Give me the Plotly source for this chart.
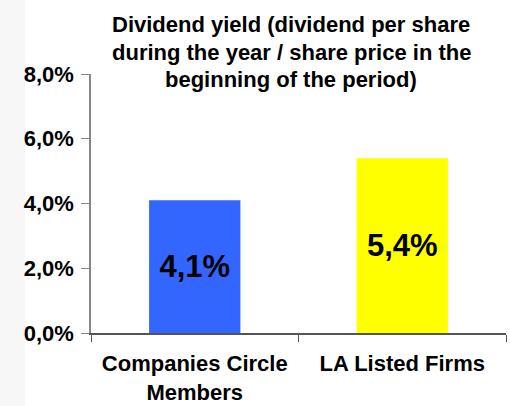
import plotly.graph_objects as go

categories = ["Companies Circle<br>Members", "LA Listed Firms"]
values = [4.1, 5.4]
bar_colors = ["#3366FF", "#FFFF00"]
tick_vals = [0, 2, 4, 6, 8]
tick_text = ["0,0%", "2,0%", "4,0%", "6,0%", "8,0%"]
title_lines = ["Dividend yield (dividend per share",
               "during the year / share price in the",
               "beginning of the period)"]

FONT = "Liberation Sans, Arial, sans-serif"

W, H = 510, 406
ml, mr, mt, mb = 91, 4, 74, 73
pw = W - ml - mr
ph = H - mt - mb

fig = go.Figure()
fig.add_trace(go.Bar(
    x=categories, y=values,
    marker=dict(color=bar_colors, line=dict(width=0)),
    texttemplate="%{y:.1f}%",
    textposition="inside", insidetextanchor="middle", textangle=0,
    textfont=dict(family=FONT, size=31, color="black", weight="bold"),
    hoverinfo="skip",
))

def px_x(px):
    return (px - ml) / pw

def px_y(py):
    return 1 - (py - mt) / ph

fig.add_shape(type="rect", xref="paper", yref="paper",
              x0=px_x(0), x1=px_x(25), y0=px_y(H), y1=px_y(0),
              fillcolor="#f7f7f7", line=dict(width=0), layer="below")

for i, line in enumerate(title_lines):
    fig.add_annotation(text=line, xref="paper", yref="paper",
                       x=px_x(291), y=px_y(10 + 27.5 * i), xanchor="center", yanchor="top",
                       showarrow=False, align="center",
                       font=dict(family=FONT, size=22, color="black", weight="bold"))

fig.update_layout(
    width=W, height=H,
    margin=dict(l=ml, r=mr, t=mt, b=mb, pad=0, autoexpand=False),
    paper_bgcolor="white", plot_bgcolor="white",
    showlegend=False, bargap=0.56,
    separators=", ",
    font=dict(family=FONT, size=22, color="black"),
    xaxis=dict(showline=True, linecolor="#555555", linewidth=1.5,
               ticks="outside", tickson="boundaries", ticklen=7, tickcolor="#555555",
               tickfont=dict(family=FONT, size=22, color="black", weight="bold"),
               ticklabelstandoff=10, automargin=False,
               showgrid=False, zeroline=False),
    yaxis=dict(range=[0, 8], tickvals=tick_vals, ticktext=tick_text,
               showline=True, linecolor="#888888", linewidth=1.5,
               ticks="outside", ticklen=8, tickcolor="#888888",
               tickfont=dict(family=FONT, size=22, color="black", weight="bold"),
               ticklabelstandoff=3, automargin=False,
               showgrid=False, zeroline=False),
)
fig.write_html("out.html", config={"displayModeBar": False})

with open("out.html", "r", encoding="utf-8") as f:
    html = f.read()
html = html.replace("<body>", '<body style="margin:0;padding:0;overflow:hidden">', 1)
with open("out.html", "w", encoding="utf-8") as f:
    f.write(html)
